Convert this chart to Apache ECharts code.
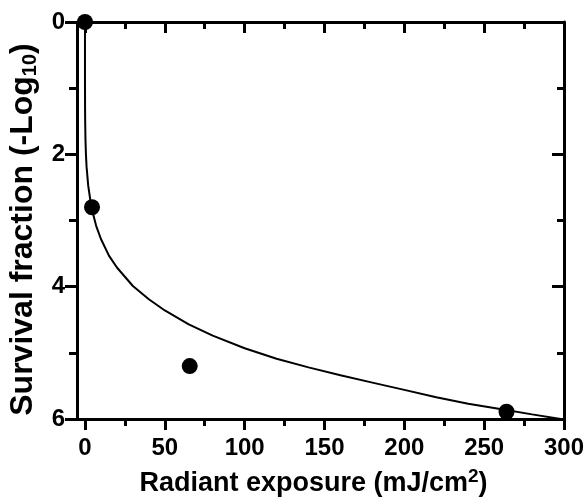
<!DOCTYPE html>
<html>
<head>
<meta charset="utf-8">
<script src="https://cdn.jsdelivr.net/npm/echarts@6/dist/echarts.min.js"></script>
<style>
html,body{margin:0;padding:0;background:#fff;}
#chart{width:588px;height:502px;}
</style>
</head>
<body>
<div id="chart"></div>
<script>
// Measured data points (radiant exposure mJ/cm2, survival fraction -log10)
var pointX = [0, 4.4, 65.6, 264];
var pointY = [0, 2.8, 5.2, 5.89];

// Fitted curve
var curveX = [0, 0.002, 0.01, 0.05, 0.1, 0.3, 0.6, 1, 2, 4, 7, 10, 15, 20, 30, 40, 50, 65, 80, 100, 120, 140, 160, 180, 200, 220, 240, 260, 280, 298];
var curveY = [0, 0.73, 0.97, 1.30, 1.46, 1.77, 2.0, 2.19, 2.47, 2.8, 3.08, 3.28, 3.53, 3.71, 3.99, 4.19, 4.36, 4.57, 4.74, 4.93, 5.09, 5.22, 5.34, 5.45, 5.56, 5.67, 5.77, 5.85, 5.93, 6.0];

// Tick values
var xMajorTicks = [0, 50, 100, 150, 200, 250, 300];
var xMinorTicks = [25, 75, 125, 175, 225, 275];

var FONT = '"Liberation Sans", Arial, Helvetica, sans-serif';

var chart = echarts.init(document.getElementById('chart'), null, {renderer: 'canvas'});

var axisLineStyle = {color: '#000', width: 3};

function zip(a, b) { return a.map(function (v, i) { return [v, b[i]]; }); }

var option = {
  backgroundColor: '#fff',
  animation: false,
  grid: {left: 77, right: 24, top: 22, bottom: 83, containLabel: false, outerBoundsMode: 'none'},
  xAxis: [
    {
      type: 'value', position: 'bottom', min: -5, max: 300,
      axisLine: {show: true, onZero: false, lineStyle: axisLineStyle},
      axisTick: {show: true, customValues: xMajorTicks, length: 11, lineStyle: {color: '#000', width: 3}},
      axisLabel: {customValues: xMajorTicks, fontSize: 24, fontWeight: 'bold', color: '#000', fontFamily: FONT, margin: 17},
      splitLine: {show: false},
      name: 'Radiant exposure (mJ/cm{sup|2})',
      nameLocation: 'middle', nameGap: 48,
      nameTextStyle: {
        fontSize: 27, fontWeight: 'bold', color: '#000', fontFamily: FONT, lineHeight: 34,
        padding: [0, 14, 0, 0],
        rich: {
          sup: {fontSize: 19, fontWeight: 'bold', color: '#000', fontFamily: FONT, lineHeight: 19, verticalAlign: 'top'}
        }
      }
    },
    {
      type: 'value', position: 'bottom', min: -5, max: 300,
      axisLine: {show: false, onZero: false},
      axisTick: {show: true, customValues: xMinorTicks, length: 7, lineStyle: {color: '#000', width: 3}},
      axisLabel: {show: false},
      splitLine: {show: false}
    },
    {
      type: 'value', position: 'top', min: -5, max: 300,
      axisLine: {show: true, onZero: false, lineStyle: axisLineStyle},
      axisTick: {show: true, inside: true, customValues: xMajorTicks, length: 11, lineStyle: {color: '#000', width: 3}},
      axisLabel: {show: false},
      splitLine: {show: false}
    },
    {
      type: 'value', position: 'top', min: -5, max: 300,
      axisLine: {show: false, onZero: false},
      axisTick: {show: true, inside: true, customValues: xMinorTicks, length: 7, lineStyle: {color: '#000', width: 3}},
      axisLabel: {show: false},
      splitLine: {show: false}
    }
  ],
  yAxis: [
    {
      type: 'value', position: 'left', inverse: true, min: 0, max: 6, interval: 2,
      axisLine: {show: true, onZero: false, lineStyle: axisLineStyle},
      axisTick: {show: true, length: 12, lineStyle: {color: '#000', width: 3}},
      minorTick: {show: true, splitNumber: 2, length: 8, lineStyle: {color: '#000', width: 3}},
      axisLabel: {fontSize: 24, fontWeight: 'bold', color: '#000', fontFamily: FONT, margin: 12},
      splitLine: {show: false},
      name: 'Survival fraction (-Log{sub|10})',
      nameLocation: 'middle', nameGap: 36,
      nameTextStyle: {
        fontSize: 32, fontWeight: 'bold', color: '#000', fontFamily: FONT, lineHeight: 36,
        padding: [0, 18, 0, 0],
        rich: {
          sub: {fontSize: 20, fontWeight: 'bold', color: '#000', fontFamily: FONT, lineHeight: 20, verticalAlign: 'bottom'}
        }
      }
    },
    {
      type: 'value', position: 'right', inverse: true, min: 0, max: 6, interval: 2,
      axisLine: {show: true, onZero: false, lineStyle: axisLineStyle},
      axisTick: {show: true, inside: true, length: 12, lineStyle: {color: '#000', width: 3}},
      minorTick: {show: true, splitNumber: 2, length: 7, lineStyle: {color: '#000', width: 3}},
      axisLabel: {show: false},
      splitLine: {show: false}
    }
  ],
  series: [
    {
      type: 'line', xAxisIndex: 0, yAxisIndex: 0,
      data: zip(curveX, curveY),
      showSymbol: false, symbol: 'none', smooth: false,
      lineStyle: {color: '#000', width: 2},
      z: 3
    },
    {
      type: 'scatter', xAxisIndex: 0, yAxisIndex: 0,
      data: zip(pointX, pointY),
      symbol: 'circle', symbolSize: 16,
      itemStyle: {color: '#000', opacity: 1},
      z: 4
    }
  ]
};
chart.setOption(option);
</script>
</body>
</html>
